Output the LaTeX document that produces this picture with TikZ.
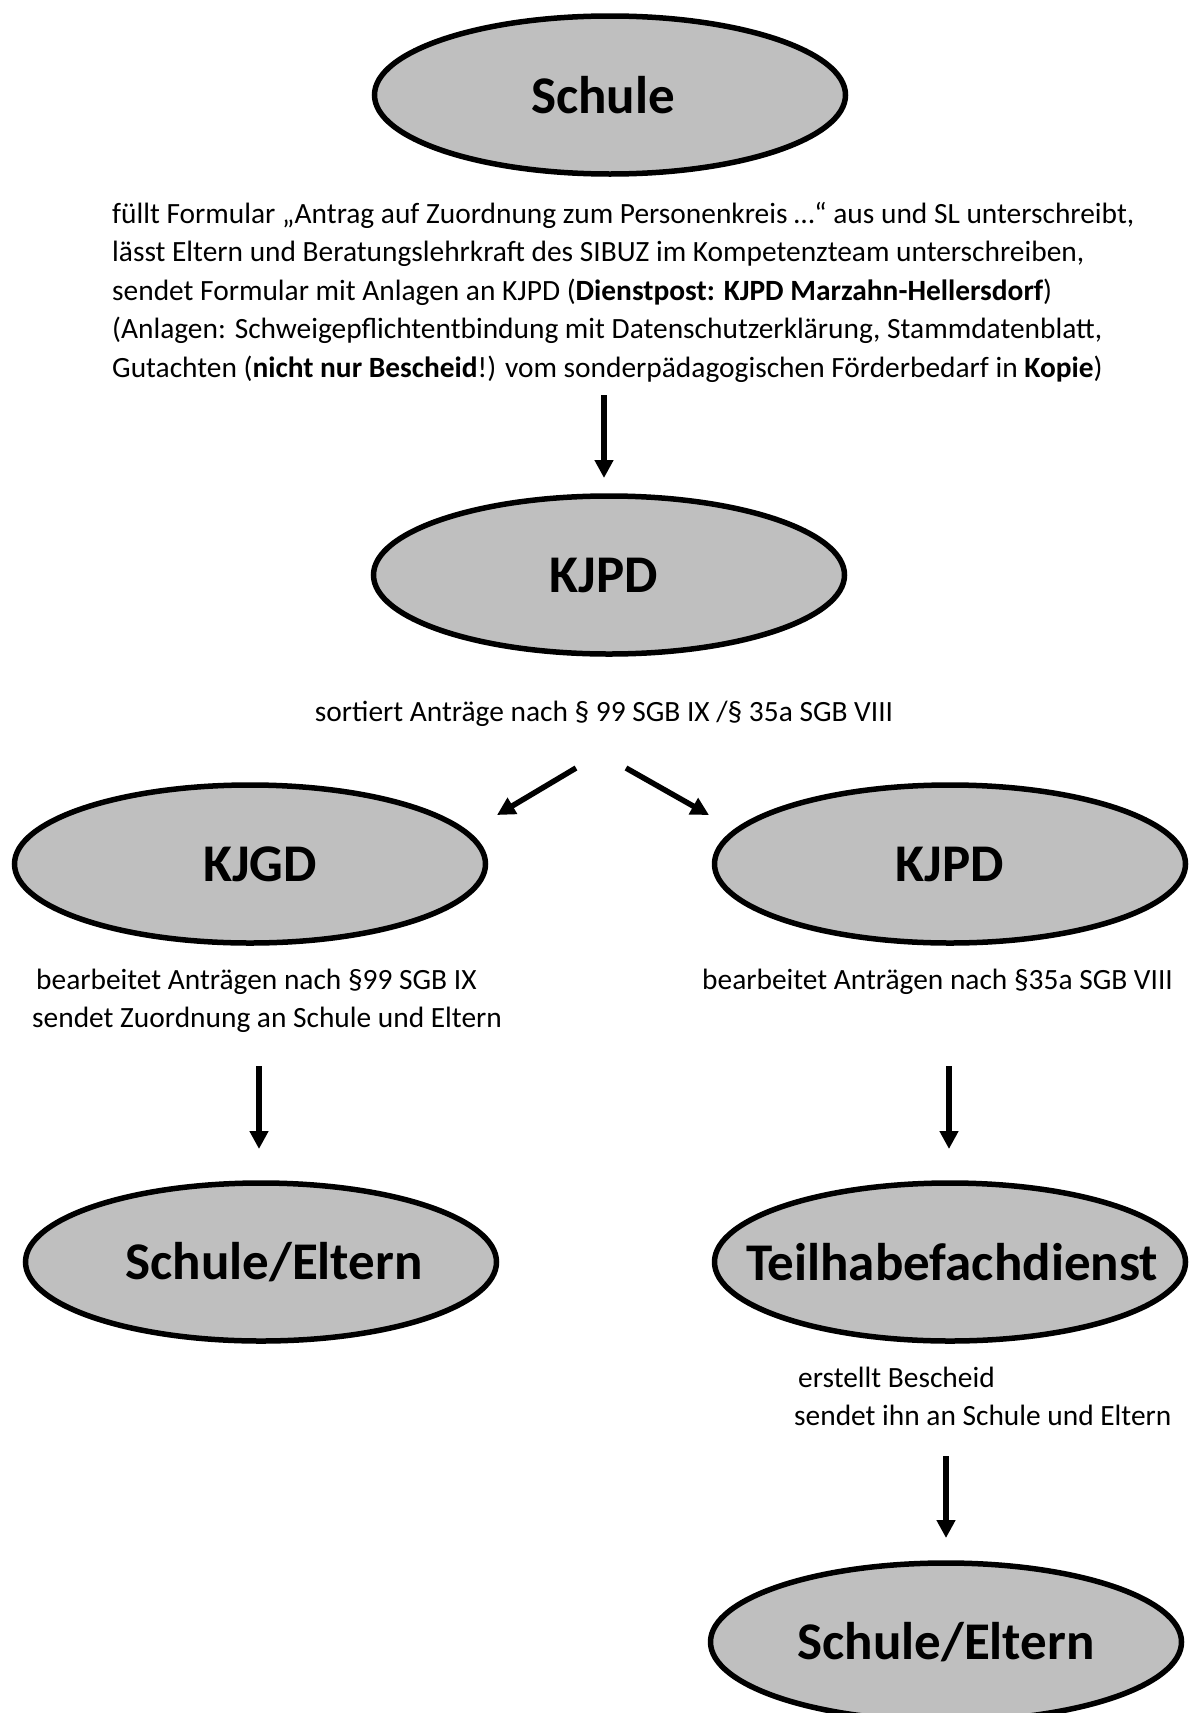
\documentclass[tikz,border=0pt]{standalone}
\usepackage{fontspec}
\setmainfont{Carlito}
\usetikzlibrary{shapes.geometric,arrows.meta}
\definecolor{ellgray}{RGB}{191,191,191}
% label centred in its ellipse, moved sideways by the optional amount
\newcommand\ellabel[2][0pt]{\makebox[0pt]{\hspace{#1}\hspace{#1}#2}}
\begin{document}
\begin{tikzpicture}[x=1pt,y=-1pt,
  stage/.style={ellipse, draw=black, line width=5.5pt, fill=ellgray, inner sep=0pt,
    minimum width=471pt, minimum height=158pt, font=\fontsize{53}{60}\selectfont\bfseries},
  body/.style={inner sep=0pt, font=\fontsize{29.4}{38}\selectfont},
  arr/.style={line width=5.5pt, -{Triangle[length=18pt,width=18pt]}}]
\fill[white] (0,0) rectangle (1190,1713);
\useasboundingbox (0,0) rectangle (1190,1713);

% ellipses
\node[stage] (schule) at (610,95) {\ellabel[-7pt]{Schule}};
\node[stage] (kjpd) at (609,575) {\ellabel[-5pt]{KJPD}};
\node[stage] (kjgd) at (250,864) {\ellabel[10pt]{KJGD}};
\node[stage] (kjpdr) at (950,864) {\ellabel{KJPD}};
\node[stage] (eltl) at (261,1262) {\ellabel[13pt]{Schule/Eltern}};
\node[stage] (teil) at (950,1262) {\ellabel[2pt]{Teilhabefachdienst}};
\node[stage] (eltr) at (946,1642) {\ellabel{Schule/Eltern}};

% texts
\node[body, anchor=base west] (t1) at (112,223.5) {füllt Formular „Antrag auf Zuordnung zum Personenkreis …“ aus und SL unterschreibt,};
\node[body, anchor=base west] (t2) at (112,261.9) {lässt Eltern und Beratungslehrkraft des SIBUZ im Kompetenzteam unterschreiben,};
\node[body, anchor=base west] (t3) at (112,300.3) {sendet Formular mit Anlagen an KJPD (\textbf{Dienstpost: KJPD Marzahn-Hellersdorf})};
\node[body, anchor=base west] (t4) at (112,338.7) {(Anlagen: Schweigepflichtentbindung mit Datenschutzerklärung, Stammdatenblatt,};
\node[body, anchor=base west] (t5) at (112,377.1) {Gutachten (\textbf{nicht nur Bescheid}!) vom sonderpädagogischen Förderbedarf in \textbf{Kopie})};

\node[body, anchor=base] (sort) at (604,721) {sortiert Anträge nach § 99 SGB IX /§ 35a SGB VIII};

\node[body, anchor=base west] (kjgdt1) at (36,989) {bearbeitet Anträgen nach §99 SGB IX};
\node[body, anchor=base west] (kjgdt2) at (32,1027) {sendet Zuordnung an Schule und Eltern};
\node[body, anchor=base west] (kjpdt) at (702,989) {bearbeitet Anträgen nach §35a SGB VIII};
\node[body, anchor=base west] (tht1) at (798,1387) {erstellt Bescheid};
\node[body, anchor=base west] (tht2) at (794,1425) {sendet ihn an Schule und Eltern};

% arrow end points
\coordinate (a1s) at (604,395); \coordinate (a1e) at (604,478);
\coordinate (a2s) at (576,768); \coordinate (a2e) at (497,815);
\coordinate (a3s) at (626,768); \coordinate (a3e) at (709,815);
\coordinate (a4s) at (259,1066); \coordinate (a4e) at (259,1149);
\coordinate (a5s) at (949,1066); \coordinate (a5e) at (949,1149);
\coordinate (a6s) at (946,1456); \coordinate (a6e) at (946,1538);

\draw[arr] (a1s) -- (a1e);
\draw[arr] (a2s) -- (a2e);
\draw[arr] (a3s) -- (a3e);
\draw[arr] (a4s) -- (a4e);
\draw[arr] (a5s) -- (a5e);
\draw[arr] (a6s) -- (a6e);
\end{tikzpicture}
\end{document}
